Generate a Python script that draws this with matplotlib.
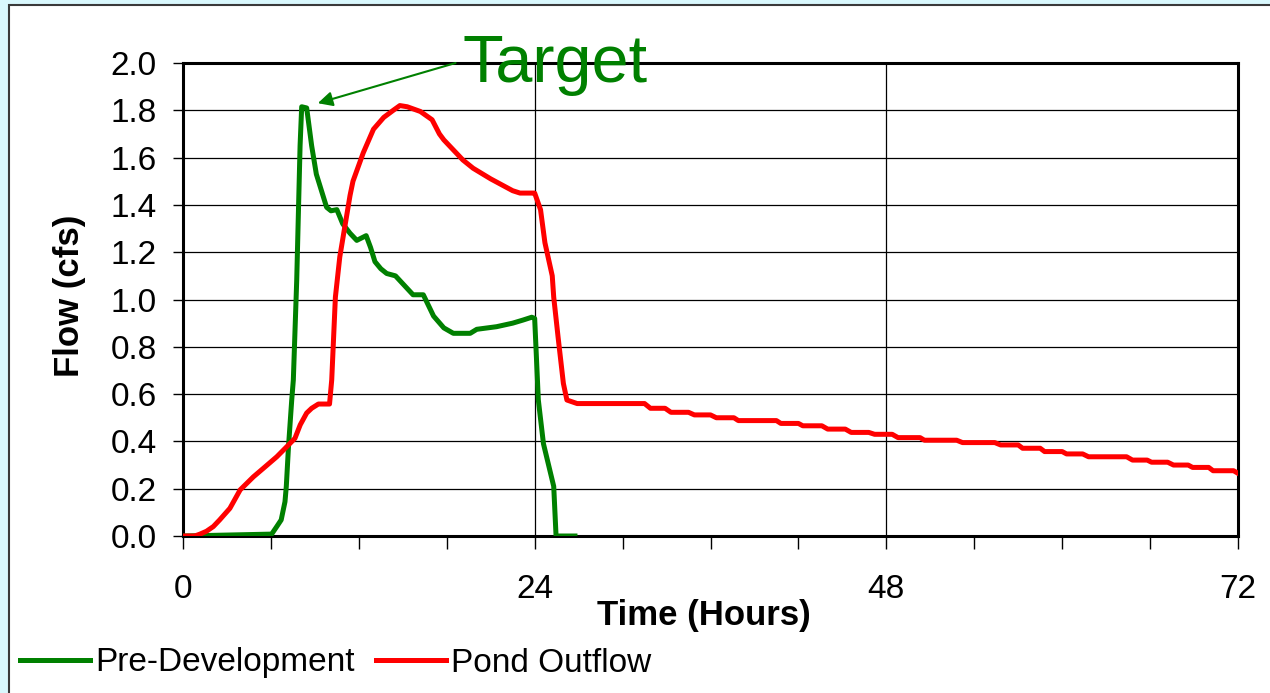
import matplotlib
matplotlib.use('Agg')
import matplotlib.pyplot as plt
from matplotlib.patches import Rectangle

plt.rcParams['font.family'] = ['Liberation Sans', 'DejaVu Sans']

# pre-development hydrograph (hours, cfs)
pre_t = [0, 6.05, 6.4, 6.7, 6.96, 7.05, 7.2, 7.42, 7.53, 7.76, 7.99, 8.1, 8.44, 8.78, 9.1, 9.35,
         9.8, 10.1, 10.5, 10.9, 11.4, 11.86, 12.5, 12.8, 13.1, 13.5, 13.9, 14.5, 15.1, 15.7,
         16.4, 17.1, 17.8, 18.45, 19.6, 20.05, 21.4, 22.5, 23.2, 23.8, 24.0, 24.25, 24.6,
         25.3, 25.46, 26.75]
pre_q = [0, 0.008, 0.04, 0.068, 0.145, 0.21, 0.378, 0.575, 0.66, 1.08, 1.65, 1.815, 1.81, 1.65,
         1.53, 1.48, 1.39, 1.375, 1.38, 1.32, 1.28, 1.25, 1.27, 1.22, 1.16, 1.13, 1.11, 1.10,
         1.06, 1.02, 1.02, 0.93, 0.88, 0.857, 0.857, 0.874, 0.885, 0.90, 0.913, 0.925, 0.92,
         0.575, 0.39, 0.21, 0.0, 0.0]

# pond outflow hydrograph (hours, cfs)
pond_t = [0, 0.8, 1.16, 1.6, 2.07, 2.5, 3.2, 3.9, 4.8, 5.48, 6.4, 6.96, 7.64, 8.0, 8.44, 8.78,
          9.24, 10.0, 10.15, 10.4, 10.7, 11.4, 11.6, 12.3, 13.0, 13.7, 14.35, 14.8, 15.3, 16.2,
          17.0, 17.5, 17.8, 19.1, 19.8, 21.0, 22.5, 23.0, 23.8, 24.0, 24.4, 24.7, 25.2, 25.3,
          25.6, 25.96, 26.2, 26.9,
          31.5, 31.9, 32.9, 33.3, 34.5, 34.9, 36.0, 36.4, 37.6, 37.9, 40.5, 40.8, 42.0, 42.3,
          43.6, 44.0, 45.2, 45.6, 46.8, 47.2, 48.4, 48.8, 50.3, 50.6, 52.8, 53.2, 55.4, 55.8,
          57.0, 57.3, 58.5, 58.8, 60.0, 60.3, 61.4, 61.8, 64.4, 64.8, 65.8, 66.1, 67.2, 67.6,
          68.6, 68.9, 70.0, 70.3, 71.7, 72.0]
pond_q = [0, 0, 0.008, 0.02, 0.04, 0.068, 0.117, 0.195, 0.25, 0.286, 0.335, 0.37, 0.413, 0.47,
          0.52, 0.54, 0.558, 0.558, 0.66, 1.01, 1.18, 1.44, 1.5, 1.62, 1.72, 1.77, 1.80, 1.82,
          1.815, 1.795, 1.76, 1.70, 1.675, 1.59, 1.555, 1.51, 1.46, 1.45, 1.45, 1.45, 1.38,
          1.24, 1.10, 1.01, 0.84, 0.645, 0.575, 0.56,
          0.56, 0.54, 0.54, 0.523, 0.523, 0.512, 0.512, 0.50, 0.50, 0.488, 0.488, 0.476, 0.476,
          0.466, 0.466, 0.452, 0.452, 0.438, 0.438, 0.43, 0.43, 0.416, 0.416, 0.405, 0.405,
          0.395, 0.395, 0.385, 0.385, 0.371, 0.371, 0.357, 0.357, 0.347, 0.347, 0.335, 0.335,
          0.321, 0.321, 0.312, 0.312, 0.300, 0.300, 0.290, 0.290, 0.276, 0.276, 0.265]

x_major = [0, 24, 48, 72]
x_minor = [6, 12, 18, 30, 36, 42, 54, 60, 66]
y_ticks = [0.0, 0.2, 0.4, 0.6, 0.8, 1.0, 1.2, 1.4, 1.6, 1.8, 2.0]

green = '#008000'
red = '#ff0000'

fig = plt.figure(figsize=(12.7, 6.93), dpi=100)
fig.patch.set_facecolor('#d9f8fd')
# white chart area with grey frame, behind everything
fig.patches.append(Rectangle((9 / 1270, -0.1), 1.2, 1.1 - 5 / 693, transform=fig.transFigure,
                             facecolor='white', edgecolor='#3a3a3a', linewidth=1.5, zorder=-5))

ax = fig.add_axes([183 / 1270, 157 / 693, 1055 / 1270, 473 / 693])
ax.set_facecolor('white')

ax.plot(pre_t, pre_q, color=green, lw=3.6, solid_joinstyle='round', label='Pre-Development', zorder=3)
ax.plot(pond_t, pond_q, color=red, lw=3.6, solid_joinstyle='round', label='Pond Outflow', zorder=3)

ax.set_xlim(0, 72)
ax.set_ylim(0, 2.0)
ax.set_xticks(x_major)
ax.set_xticks(x_minor, minor=True)
ax.set_yticks(y_ticks)
ax.set_yticklabels([f'{v:.1f}' for v in y_ticks])

for v in y_ticks[1:-1]:
    ax.axhline(v, color='black', lw=0.9, zorder=1)
for t in [24, 48]:
    ax.axvline(t, color='black', lw=0.9, zorder=1)

for s in ax.spines.values():
    s.set_linewidth(2.2)
    s.set_color('black')

ax.tick_params(axis='x', which='both', direction='out', length=9, width=1, pad=18, labelsize=24)
ax.tick_params(axis='y', which='major', direction='out', length=7, width=1, pad=12, labelsize=24)

fig.text(704 / 1270, (693 - 625) / 693, 'Time (Hours)', ha='center', va='baseline',
         fontsize=25, fontweight='bold')
fig.text(70 / 1270, (693 - 296) / 693, 'Flow (cfs)', ha='center', va='center',
         rotation=90, fontsize=25, fontweight='bold')

# target annotation
ax.annotate('', xy=(9.2, 1.83), xytext=(18.6, 2.0), annotation_clip=False,
            arrowprops=dict(arrowstyle='-|>', color=green, lw=1.5, mutation_scale=22,
                            shrinkA=0, shrinkB=0))
fig.text(463 / 1270, (693 - 82) / 693, 'Target', ha='left', va='baseline',
         fontsize=48, color=green)

fig.legend(loc='center left', bbox_to_anchor=(20 / 1270, 30 / 693), ncol=2, frameon=False,
           fontsize=24, handlelength=2.1, handletextpad=0.15, columnspacing=0.65,
           borderpad=0, borderaxespad=0)

fig.savefig('out.png', dpi=100, facecolor=fig.get_facecolor())
